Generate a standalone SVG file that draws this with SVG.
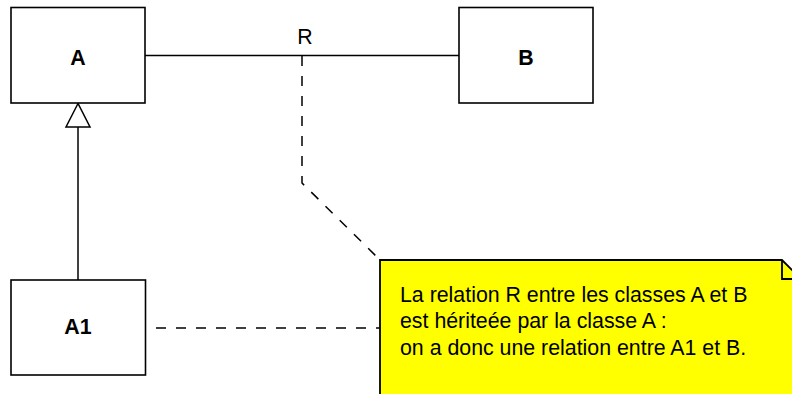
<svg xmlns="http://www.w3.org/2000/svg" width="792" height="394" viewBox="0 0 792 394">
<style>
.box{fill:#fff;stroke:#000;stroke-width:1.6}
.lbl{font-family:"Liberation Sans",Arial,sans-serif;font-size:21.33px;font-weight:bold;text-anchor:middle;fill:#000}
.txt{font-family:"Liberation Sans",Arial,sans-serif;font-size:21.33px;fill:#000}
.line{fill:none;stroke:#000;stroke-width:1.5}
.dash{fill:none;stroke:#000;stroke-width:1.5;stroke-dasharray:10 10}
</style>
<rect width="792" height="394" fill="#fff"/>
<g id="connectors">
<line class="line" x1="145" y1="55.5" x2="459" y2="55.5"/>
<text class="txt" x="305" y="44" text-anchor="middle">R</text>
<line class="line" x1="78" y1="280" x2="78" y2="127"/>
<polygon points="78,103.5 66,127 90,127" fill="#fff" stroke="#000" stroke-width="1.5"/>
<polyline class="dash" points="302,56 302,183 380,260"/>
<line class="dash" x1="156" y1="328" x2="380" y2="328"/>
</g>
<g id="A">
<rect class="box" x="11" y="7.5" width="134" height="95.5"/>
<text class="lbl" x="78" y="65">A</text>
</g>
<g id="B">
<rect class="box" x="459" y="7.5" width="134" height="95.5"/>
<text class="lbl" x="526" y="65">B</text>
</g>
<g id="A1">
<rect class="box" x="11" y="280" width="134.5" height="95"/>
<text class="lbl" x="78" y="334">A1</text>
</g>
<g id="note">
<path d="M380,260 L782,260 L801,279 L801,420 L380,420 Z" fill="#ffff00" stroke="#000" stroke-width="1.8"/>
<path d="M782,260 L782,279 L801,279" fill="none" stroke="#000" stroke-width="1.8"/>
<text class="txt" x="400" y="301.5">La relation R entre les classes A et B</text>
<text class="txt" x="400" y="328">est hériteée par la classe A :</text>
<text class="txt" x="400" y="354.5">on a donc une relation entre A1 et B.</text>
</g>
</svg>
